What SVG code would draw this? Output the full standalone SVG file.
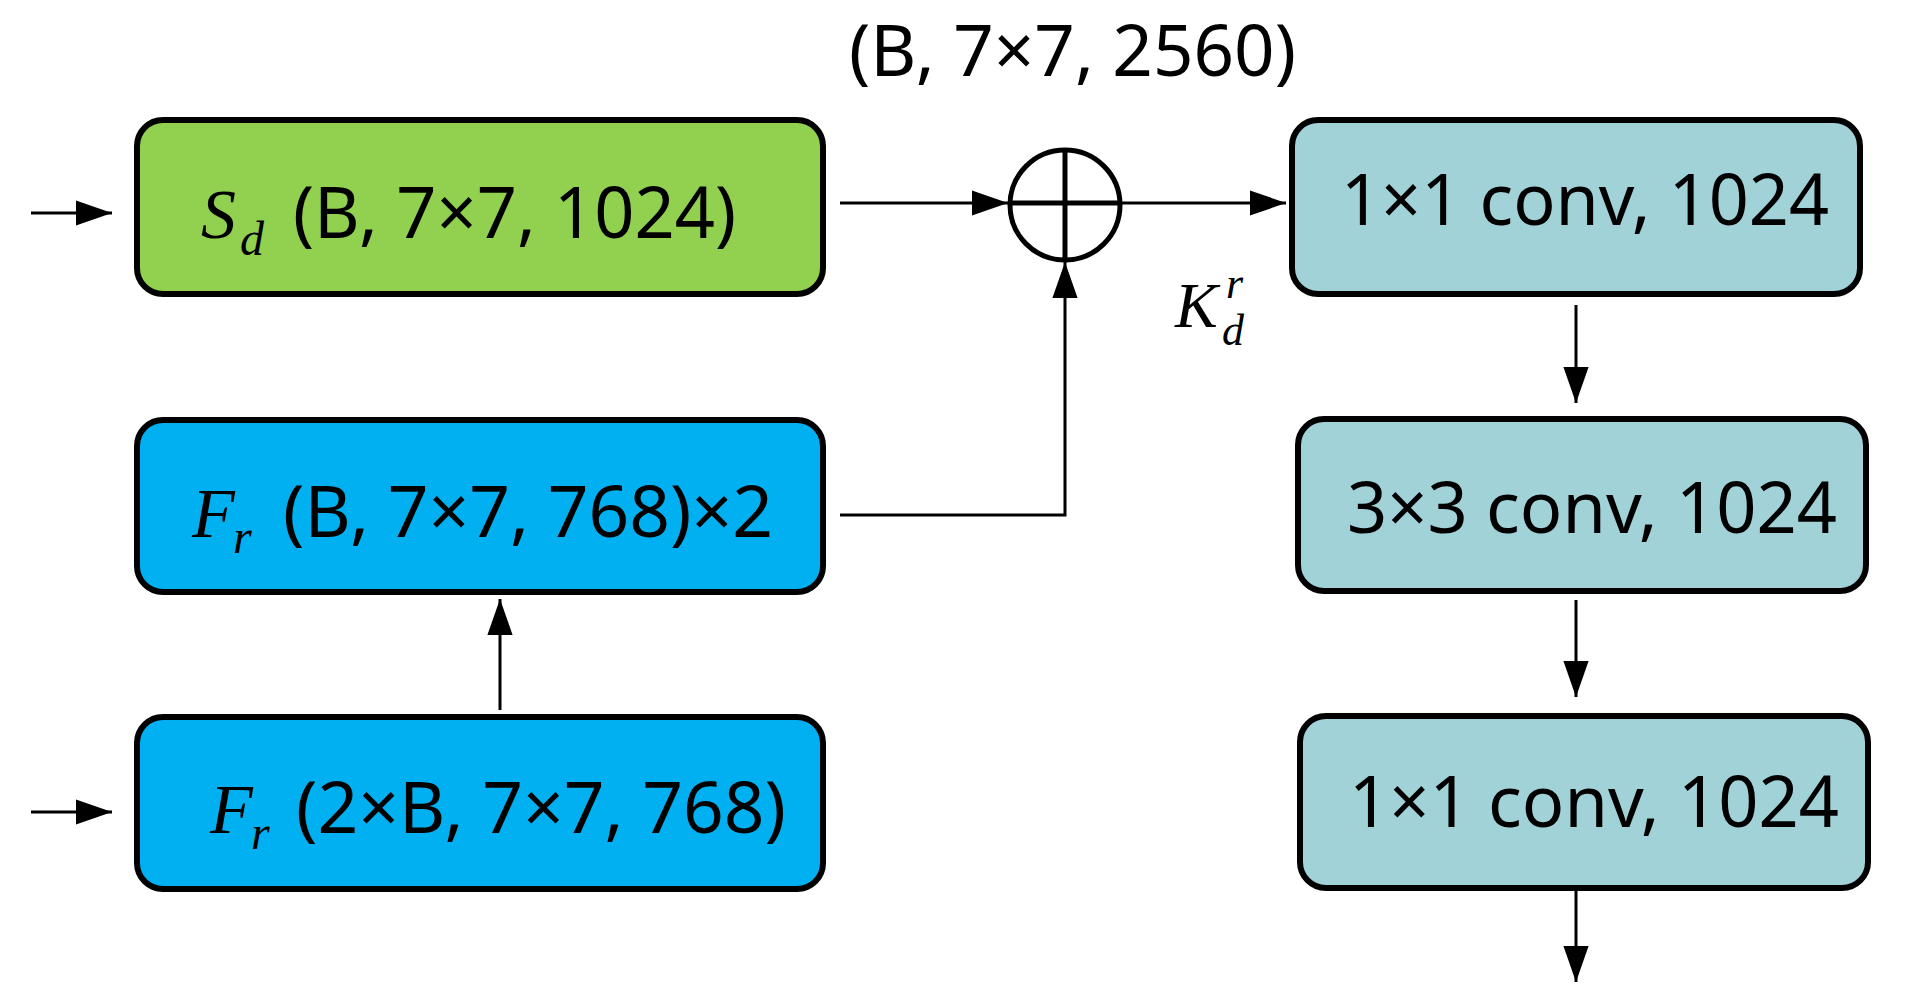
<svg xmlns="http://www.w3.org/2000/svg" width="1910" height="993" viewBox="0 0 1910 993">
<style>
.box{stroke:#000;stroke-width:6}
.t{font-family:"Noto Sans","Open Sans",sans-serif;font-size:72px;fill:#000}
.m{font-family:"Liberation Serif",serif;font-style:italic;fill:#000}
.c{stroke:#000;stroke-width:3;fill:none}
</style>
<defs>
<marker id="b" viewBox="0 0 10 10" refX="10" refY="5" markerWidth="36" markerHeight="36" orient="auto" markerUnits="userSpaceOnUse"><path d="M0,1.5 L10,5 L0,8.5z" fill="#000"/></marker>
</defs>
<g id="connectors">
<line class="c" x1="31" y1="213" x2="112" y2="213" stroke-width="5" marker-end="url(#b)"/>
<line class="c" x1="31" y1="812" x2="112" y2="812" stroke-width="5" marker-end="url(#b)"/>
<line class="c" x1="840" y1="203" x2="1008" y2="203" marker-end="url(#b)"/>
<line class="c" x1="1122" y1="203" x2="1286" y2="203" marker-end="url(#b)"/>
<polyline class="c" points="840,515 1065,515 1065,262" marker-end="url(#b)"/>
<line class="c" x1="500" y1="710" x2="500" y2="599" stroke-width="4" marker-end="url(#b)"/>
<line class="c" x1="1576" y1="305" x2="1576" y2="403" marker-end="url(#b)"/>
<line class="c" x1="1576" y1="600" x2="1576" y2="697" marker-end="url(#b)"/>
<line class="c" x1="1576" y1="888" x2="1576" y2="982" marker-end="url(#b)"/>
</g>
<g id="top-label"><text class="t" x="849" y="76" textLength="447" lengthAdjust="spacingAndGlyphs">(B, 7×7, 2560)</text></g>
<g id="sd">
<rect class="box" x="137" y="120" width="686" height="174" rx="26" fill="#92d050"/>
<text class="m" x="201" y="238" font-size="70">S</text><text class="m" x="240" y="255" font-size="48">d</text>
<text class="t" x="293" y="238" textLength="443" lengthAdjust="spacingAndGlyphs">(B, 7×7, 1024)</text>
</g>
<g id="fr1">
<rect class="box" x="137" y="420" width="686" height="172" rx="26" fill="#00b0f0"/>
<text class="m" x="192" y="537" font-size="70">F</text><text class="m" x="233" y="553" font-size="48">r</text>
<text class="t" x="283" y="537" textLength="490" lengthAdjust="spacingAndGlyphs">(B, 7×7, 768)×2</text>
</g>
<g id="fr2">
<rect class="box" x="137" y="717" width="686" height="172" rx="26" fill="#00b0f0"/>
<text class="m" x="210" y="833" font-size="70">F</text><text class="m" x="251" y="849" font-size="48">r</text>
<text class="t" x="296" y="833" textLength="490" lengthAdjust="spacingAndGlyphs">(2×B, 7×7, 768)</text>
</g>
<g id="sum">
<ellipse cx="1065" cy="205" rx="55" ry="55" fill="#fff" stroke="#000" stroke-width="5"/>
<line x1="1010" y1="203" x2="1120" y2="203" stroke="#000" stroke-width="5"/>
<line x1="1065" y1="150" x2="1065" y2="260" stroke="#000" stroke-width="5"/>
</g>
<g id="k"><text class="m" x="1175" y="327" font-size="64">K</text><text class="m" x="1226" y="298" font-size="44">r</text><text class="m" x="1222" y="345" font-size="44">d</text></g>
<g id="conv1">
<rect class="box" x="1292" y="120" width="568" height="174" rx="26" fill="#a0d2d8"/>
<text class="t" x="1341" y="225" textLength="488" lengthAdjust="spacingAndGlyphs">1×1 conv, 1024</text>
</g>
<g id="conv2">
<rect class="box" x="1298" y="419" width="568" height="172" rx="26" fill="#a0d2d8"/>
<text class="t" x="1347" y="533" textLength="490" lengthAdjust="spacingAndGlyphs">3×3 conv, 1024</text>
</g>
<g id="conv3">
<rect class="box" x="1300" y="716" width="568" height="172" rx="26" fill="#a0d2d8"/>
<text class="t" x="1349" y="827" textLength="490" lengthAdjust="spacingAndGlyphs">1×1 conv, 1024</text>
</g>
</svg>
